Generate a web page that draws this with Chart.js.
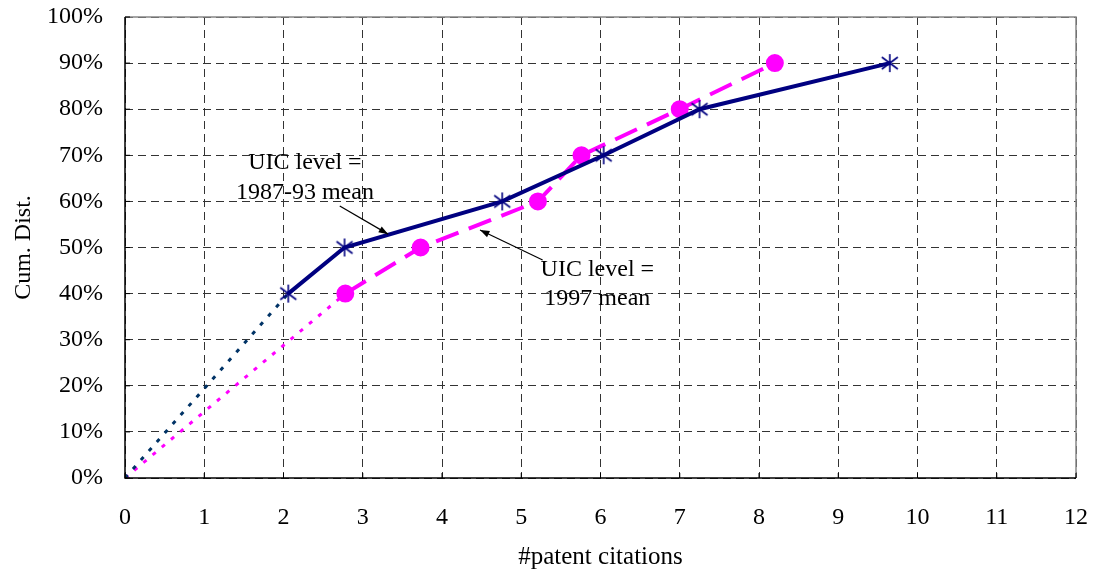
<!DOCTYPE html>
<html>
<head>
<meta charset="utf-8">
<script src="https://cdn.jsdelivr.net/npm/chart.js@4/dist/chart.umd.min.js"></script>
<style>
html,body{margin:0;padding:0;background:#fff;}
#wrap{width:1093px;height:576px;position:relative;}
</style>
</head>
<body>
<div id="wrap"><canvas id="c" width="1093" height="576"></canvas></div>
<script>
// Series: UIC level = 1987-93 mean
const oldX = [2.06, 2.77, 4.76, 6.04, 7.25, 9.65];
const oldY = [40, 50, 60, 70, 80, 90];
// Series: UIC level = 1997 mean
const newX = [2.78, 3.73, 5.21, 5.76, 7.0, 8.2];
const newY = [40, 50, 60, 70, 80, 90];
// Origin for extrapolated (dotted) parts
const origin = [0, 0];
// Axis ticks
const xTicks = [0,1,2,3,4,5,6,7,8,9,10,11,12];
const yTicks = [0,10,20,30,40,50,60,70,80,90,100];
// Annotation texts
const noteOld = ["UIC level =", "1987-93 mean"];
const noteNew = ["UIC level =", "1997 mean"];

const FONT = "'Liberation Serif', 'Times New Roman', serif";
const FS = 24;
const NAVY = '#000080';
const MAG = '#FF00FF';

function pts(xs, ys){ return xs.map((x,i)=>({x:x, y:ys[i]})); }

// asterisk marker
const star = document.createElement('canvas');
star.width = 22; star.height = 22;
(function(){
  const g = star.getContext('2d');
  g.strokeStyle = NAVY; g.lineWidth = 1.6;
  g.beginPath();
  g.moveTo(11,2); g.lineTo(11,20);
  g.moveTo(3,5); g.lineTo(19,17);
  g.moveTo(3,17); g.lineTo(19,5);
  g.stroke();
})();

const decor = {
  id: 'decor',
  afterDraw(chart){
    const {ctx, chartArea:a, scales:{x, y}} = chart;
    ctx.save();
    ctx.strokeStyle = '#888'; ctx.lineWidth = 1.5; ctx.setLineDash([]);
    ctx.beginPath();
    ctx.moveTo(a.left, a.top); ctx.lineTo(a.right, a.top); ctx.lineTo(a.right, a.bottom);
    ctx.stroke();
    ctx.strokeStyle = '#000'; ctx.lineWidth = 1.5;
    ctx.beginPath();
    ctx.moveTo(a.left, a.top); ctx.lineTo(a.left, a.bottom); ctx.lineTo(a.right, a.bottom);
    ctx.stroke();
    ctx.lineWidth = 1;
    ctx.beginPath();
    xTicks.forEach(v=>{ const px = x.getPixelForValue(v); ctx.moveTo(px, a.bottom); ctx.lineTo(px, a.bottom-5); });
    yTicks.forEach(v=>{ const py = y.getPixelForValue(v); ctx.moveTo(a.left, py); ctx.lineTo(a.left+5, py); });
    ctx.stroke();

    ctx.fillStyle = '#000';
    ctx.font = FS + "px " + FONT;
    ctx.textAlign = 'center'; ctx.textBaseline = 'middle';
    ctx.fillText(noteOld[0], x.getPixelForValue(2.27), y.getPixelForValue(68.3));
    ctx.fillText(noteOld[1], x.getPixelForValue(2.27), y.getPixelForValue(61.9));
    ctx.fillText(noteNew[0], x.getPixelForValue(5.96), y.getPixelForValue(45.1));
    ctx.fillText(noteNew[1], x.getPixelForValue(5.96), y.getPixelForValue(38.8));

    function arrow(x1,y1,x2,y2){
      const X1=x.getPixelForValue(x1), Y1=y.getPixelForValue(y1);
      const X2=x.getPixelForValue(x2), Y2=y.getPixelForValue(y2);
      ctx.strokeStyle='#000'; ctx.lineWidth=1.2;
      ctx.beginPath(); ctx.moveTo(X1,Y1); ctx.lineTo(X2,Y2); ctx.stroke();
      const ang = Math.atan2(Y2-Y1, X2-X1);
      const L=10, W=0.35;
      ctx.beginPath();
      ctx.moveTo(X2,Y2);
      ctx.lineTo(X2-L*Math.cos(ang-W), Y2-L*Math.sin(ang-W));
      ctx.lineTo(X2-L*Math.cos(ang+W), Y2-L*Math.sin(ang+W));
      ctx.closePath(); ctx.fill();
    }
    arrow(2.71, 59.0, 3.32, 52.9);
    arrow(5.27, 47.3, 4.48, 53.8);
    ctx.restore();
  }
};

new Chart(document.getElementById('c'), {
  type: 'scatter',
  data: {
    datasets: [
      {
        data: [{x:origin[0], y:origin[1]}, {x:oldX[0], y:oldY[0]}],
        showLine: true, borderColor: '#003366', borderWidth: 3, borderDash: [4,8],
        pointRadius: 0, order: 3
      },
      {
        data: [{x:origin[0], y:origin[1]}, {x:newX[0], y:newY[0]}],
        showLine: true, borderColor: MAG, borderWidth: 3, borderDash: [4,8],
        pointRadius: 0, order: 4
      },
      {
        data: pts(newX, newY),
        showLine: true, borderColor: MAG, borderWidth: 4, borderDash: [24,11],
        pointStyle: 'circle', pointRadius: 7, pointBackgroundColor: MAG, pointBorderColor: MAG,
        order: 2
      },
      {
        data: pts(oldX, oldY),
        showLine: true, borderColor: NAVY, borderWidth: 4,
        pointStyle: star, pointRadius: 9,
        order: 1
      }
    ]
  },
  options: {
    responsive: false,
    animation: false,
    devicePixelRatio: 1,
    layout: { padding: { top: 17, right: 17, left: 0, bottom: 0 } },
    plugins: { legend: { display: false }, tooltip: { enabled: false } },
    scales: {
      x: {
        type: 'linear', min: 0, max: 12,
        afterBuildTicks: s => { s.ticks = xTicks.map(v=>({value:v})); },
        afterFit: s => { s.height = 98; s.paddingLeft = 0; s.paddingRight = 0; },
        grid: { color: '#333', lineWidth: 1, drawTicks: false },
        border: { display: false, dash: [8,5] },
        ticks: { color: '#000', font: { family: FONT, size: FS }, padding: 25, maxRotation: 0 },
        title: { display: true, text: '#patent citations', color: '#000', font: { family: FONT, size: 25 }, padding: { top: 0, bottom: 4 } }
      },
      y: {
        type: 'linear', min: 0, max: 100,
        afterBuildTicks: s => { s.ticks = yTicks.map(v=>({value:v})); },
        afterFit: s => { s.width = 125; s.paddingTop = 0; s.paddingBottom = 0; },
        grid: { color: '#333', lineWidth: 1, drawTicks: false },
        border: { display: false, dash: [8,5] },
        ticks: { color: '#000', font: { family: FONT, size: FS }, padding: 22, callback: v => v + '%' },
        title: { display: true, text: 'Cum. Dist.', color: '#000', font: { family: FONT, size: FS }, padding: { top: 9, bottom: 0 } }
      }
    }
  },
  plugins: [decor]
});
</script>
</body>
</html>
